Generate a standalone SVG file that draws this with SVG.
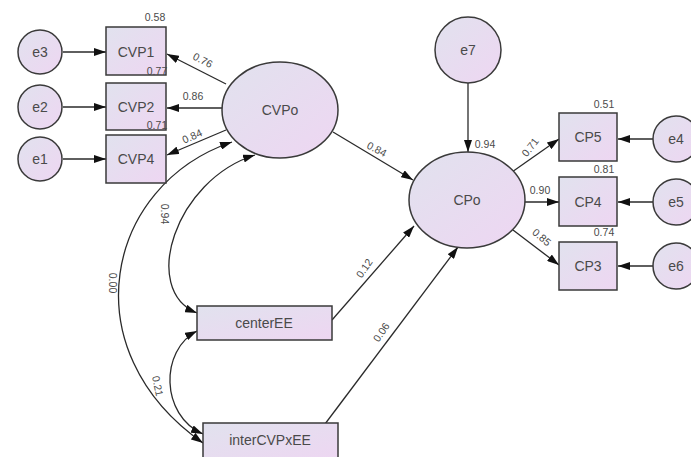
<svg xmlns="http://www.w3.org/2000/svg" width="691" height="457" viewBox="0 0 691 457">
<style>
.n{stroke:#3a3a3a;stroke-width:1.5;fill:url(#g)}
.t{font-family:"Liberation Sans",Arial,sans-serif;font-size:14px;fill:#4a4a4a;text-anchor:middle;dominant-baseline:central}
.c{font-family:"Liberation Sans",Arial,sans-serif;font-size:10.5px;fill:#4a4a4a;text-anchor:middle;dominant-baseline:central}
.l{stroke:#2a2a2a;stroke-width:1.3;fill:none}
</style>
<defs>
<linearGradient id="g" x1="0" y1="0" x2="1" y2="1">
<stop offset="0" stop-color="#e1e2ee"/>
<stop offset="1" stop-color="#eed6f2"/>
</linearGradient>
<marker id="a" markerUnits="userSpaceOnUse" markerWidth="12" markerHeight="8" refX="12" refY="4" orient="auto-start-reverse">
<path d="M0,0 L12,4 L0,8 z" fill="#111"/>
</marker>
</defs>
<rect width="691" height="457" fill="#fff"/>
<g id="connectors">
<line class="l" x1="63" y1="52" x2="106" y2="52" marker-end="url(#a)"/>
<line class="l" x1="63" y1="107" x2="106" y2="107" marker-end="url(#a)"/>
<line class="l" x1="63" y1="159" x2="106" y2="159" marker-end="url(#a)"/>
<line class="l" x1="226" y1="84" x2="167" y2="54" marker-end="url(#a)"/>
<line class="l" x1="222" y1="108" x2="167" y2="108" marker-end="url(#a)"/>
<line class="l" x1="226" y1="130" x2="167" y2="155" marker-end="url(#a)"/>
<line class="l" x1="333" y1="132" x2="413" y2="180" marker-end="url(#a)"/>
<line class="l" x1="468" y1="83" x2="468" y2="152" marker-end="url(#a)"/>
<line class="l" x1="512" y1="172" x2="559" y2="139" marker-end="url(#a)"/>
<line class="l" x1="525" y1="202" x2="559" y2="202" marker-end="url(#a)"/>
<line class="l" x1="513" y1="230" x2="559" y2="265" marker-end="url(#a)"/>
<line class="l" x1="653" y1="139" x2="618" y2="139" marker-end="url(#a)"/>
<line class="l" x1="653" y1="202" x2="618" y2="202" marker-end="url(#a)"/>
<line class="l" x1="653" y1="266" x2="618" y2="266" marker-end="url(#a)"/>
<line class="l" x1="332" y1="320" x2="414" y2="226" marker-end="url(#a)"/>
<line class="l" x1="325" y1="424" x2="458" y2="247" marker-end="url(#a)"/>
<path class="l" d="M232,142 C105,185 70,350 203,443" marker-start="url(#a)" marker-end="url(#a)"/>
<path class="l" d="M255,155 C175,180 140,290 197,313" marker-start="url(#a)" marker-end="url(#a)"/>
<path class="l" d="M197,331 C160,350 160,415 203,434" marker-start="url(#a)" marker-end="url(#a)"/>
</g>
<g id="e3"><circle class="n" cx="40" cy="52" r="22"/><text class="t" x="40" y="52">e3</text></g>
<g id="e2"><circle class="n" cx="40" cy="107" r="22"/><text class="t" x="40" y="107">e2</text></g>
<g id="e1"><circle class="n" cx="40" cy="159" r="22"/><text class="t" x="40" y="159">e1</text></g>
<g id="CVP1"><rect class="n" x="106" y="27" width="60" height="48"/><text class="t" x="136" y="52">CVP1</text></g>
<g id="CVP2"><rect class="n" x="106" y="83" width="60" height="47"/><text class="t" x="136" y="107">CVP2</text></g>
<g id="CVP4"><rect class="n" x="106" y="135" width="60" height="48"/><text class="t" x="136" y="159">CVP4</text></g>
<g id="CVPo"><ellipse class="n" cx="280" cy="110" rx="58" ry="48"/><text class="t" x="280" y="110">CVPo</text></g>
<g id="e7"><circle class="n" cx="468" cy="50" r="33"/><text class="t" x="468" y="50">e7</text></g>
<g id="CPo"><ellipse class="n" cx="467" cy="200" rx="58" ry="48"/><text class="t" x="467" y="200">CPo</text></g>
<g id="CP5"><rect class="n" x="559" y="113" width="58" height="48"/><text class="t" x="588" y="137">CP5</text></g>
<g id="CP4"><rect class="n" x="559" y="177" width="58" height="49"/><text class="t" x="588" y="202">CP4</text></g>
<g id="CP3"><rect class="n" x="559" y="242" width="58" height="48"/><text class="t" x="588" y="266">CP3</text></g>
<g id="e4"><circle class="n" cx="676" cy="139" r="23"/><text class="t" x="676" y="139">e4</text></g>
<g id="e5"><circle class="n" cx="676" cy="202" r="23"/><text class="t" x="676" y="202">e5</text></g>
<g id="e6"><circle class="n" cx="676" cy="266" r="23"/><text class="t" x="676" y="266">e6</text></g>
<g id="centerEE"><rect class="n" x="197" y="306" width="135" height="34"/><text class="t" x="264" y="323">centerEE</text></g>
<g id="interCVPxEE"><rect class="n" x="203" y="423" width="135" height="40"/><text class="t" x="270" y="440">interCVPxEE</text></g>
<g id="labels">
<text class="c" x="155" y="17">0.58</text>
<text class="c" x="157" y="71">0.77</text>
<text class="c" x="157" y="125">0.71</text>
<text class="c" transform="translate(203,60) rotate(28)">0.76</text>
<text class="c" x="193" y="96">0.86</text>
<text class="c" transform="translate(192,136) rotate(-24)">0.84</text>
<text class="c" transform="translate(377,149) rotate(28)">0.84</text>
<text class="c" x="485" y="144">0.94</text>
<text class="c" x="604" y="104">0.51</text>
<text class="c" x="604" y="169">0.81</text>
<text class="c" x="604" y="232">0.74</text>
<text class="c" transform="translate(530,147) rotate(-52)">0.71</text>
<text class="c" x="540" y="190">0.90</text>
<text class="c" transform="translate(542,237) rotate(40)">0.85</text>
<text class="c" transform="translate(364,268) rotate(-55)">0.12</text>
<text class="c" transform="translate(381,332) rotate(-55)">0.06</text>
<text class="c" transform="translate(165,214) rotate(90)">0.94</text>
<text class="c" transform="translate(113,283) rotate(90)">0.00</text>
<text class="c" transform="translate(158,386) rotate(78)">0.21</text>
</g>
</svg>
